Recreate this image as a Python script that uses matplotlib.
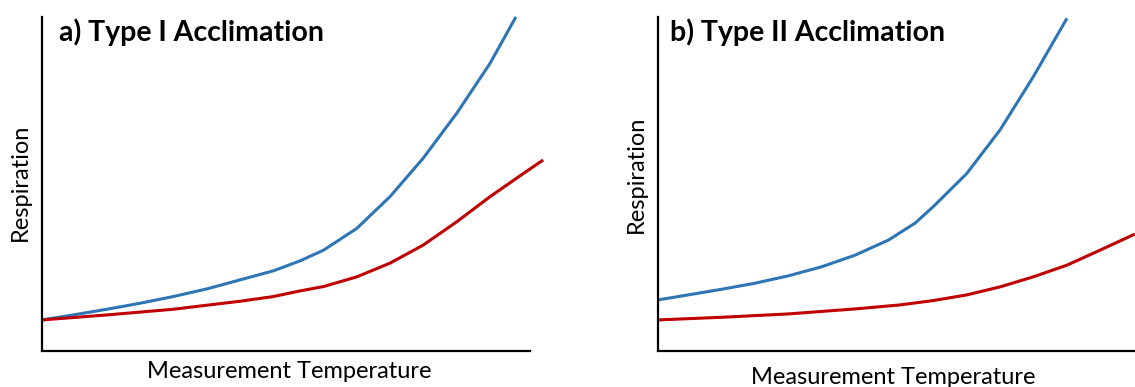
import matplotlib
matplotlib.use("Agg")
import matplotlib.pyplot as plt

plt.rcParams['font.family'] = ['Lato', 'DejaVu Sans']

W, H = 1135, 387

# panel a: measurement temperature (axis units 0-10) vs respiration (0-10)
a_blue_x = [0.0, 0.64, 1.33, 2.01, 2.69, 3.38, 4.06, 4.74, 5.29, 5.77, 6.45, 7.13, 7.81, 8.50, 9.18, 9.71]
a_blue_y = [0.93, 1.08, 1.25, 1.43, 1.63, 1.86, 2.13, 2.40, 2.70, 3.02, 3.67, 4.62, 5.77, 7.12, 8.61, 10.0]
a_red_x = [0.0, 1.33, 2.69, 4.06, 4.74, 5.29, 5.77, 6.45, 7.13, 7.81, 8.50, 9.18, 9.86, 10.27]
a_red_y = [0.93, 1.08, 1.25, 1.49, 1.63, 1.80, 1.93, 2.22, 2.63, 3.17, 3.87, 4.62, 5.31, 5.72]

# panel b
b_blue_x = [0.0, 0.62, 1.31, 1.99, 2.67, 3.35, 4.04, 4.72, 5.27, 5.64, 6.33, 7.01, 7.69, 8.38]
b_blue_y = [1.53, 1.68, 1.85, 2.03, 2.25, 2.52, 2.87, 3.32, 3.83, 4.32, 5.32, 6.62, 8.21, 9.96]
b_red_x = [0.0, 1.31, 2.67, 4.04, 4.96, 5.64, 6.33, 7.01, 7.69, 8.38, 9.06, 9.77]
b_red_y = [0.93, 1.01, 1.11, 1.26, 1.38, 1.51, 1.68, 1.92, 2.22, 2.57, 3.02, 3.50]

titles = ["a) Type I Acclimation", "b) Type II Acclimation"]
xlabel = "Measurement Temperature"
ylabel = "Respiration"

BLUE = "#2E75B6"
RED = "#C00000"
PX_PER_UNIT = 48.8


def px_axes(fig, x0, x1, y_top, y_bot):
    return fig.add_axes([x0 / W, (H - y_bot) / H, (x1 - x0) / W, (y_bot - y_top) / H])


def style(ax, xmax, xbound):
    ax.set_xlim(0, xmax)
    ax.set_ylim(0, 10)
    for s in ["top", "right"]:
        ax.spines[s].set_visible(False)
    for s in ["left", "bottom"]:
        ax.spines[s].set_linewidth(1.6)
        ax.spines[s].set_color("black")
    ax.spines["bottom"].set_bounds(0, xbound)
    ax.set_xticks([])
    ax.set_yticks([])
    ax.patch.set_alpha(0)


fig = plt.figure(figsize=(W / 100, H / 100), dpi=100)

ax1 = px_axes(fig, 42, 560, 17, 351)
style(ax1, (560 - 42) / PX_PER_UNIT, 10)
ax1.plot(a_blue_x, a_blue_y, color=BLUE, lw=2.2, clip_on=False, solid_capstyle="butt")
ax1.plot(a_red_x, a_red_y, color=RED, lw=2.2, clip_on=False, solid_capstyle="butt")

ax2 = px_axes(fig, 658, 1135, 17, 351)
style(ax2, (1135 - 658) / PX_PER_UNIT, (1135 - 658) / PX_PER_UNIT)
ax2.plot(b_blue_x, b_blue_y, color=BLUE, lw=2.2, clip_on=False, solid_capstyle="butt")
ax2.plot(b_red_x, b_red_y, color=RED, lw=2.2, clip_on=False, solid_capstyle="butt")

fig.text(59 / W, 1 - 32 / H, titles[0], fontsize=20.5, fontweight="bold", va="center", ha="left")
fig.text(670 / W, 1 - 32 / H, titles[1], fontsize=20.5, fontweight="bold", va="center", ha="left")

fig.text(289 / W, 1 - 372 / H, xlabel, fontsize=17, ha="center", va="center")
fig.text(893 / W, 1 - 377 / H, xlabel, fontsize=17, ha="center", va="center")
fig.text(20 / W, 1 - 182 / H, ylabel, fontsize=17, rotation=90, ha="center", va="center")
fig.text(636 / W, 1 - 174 / H, ylabel, fontsize=17, rotation=90, ha="center", va="center")

fig.savefig("out.png", dpi=100)
